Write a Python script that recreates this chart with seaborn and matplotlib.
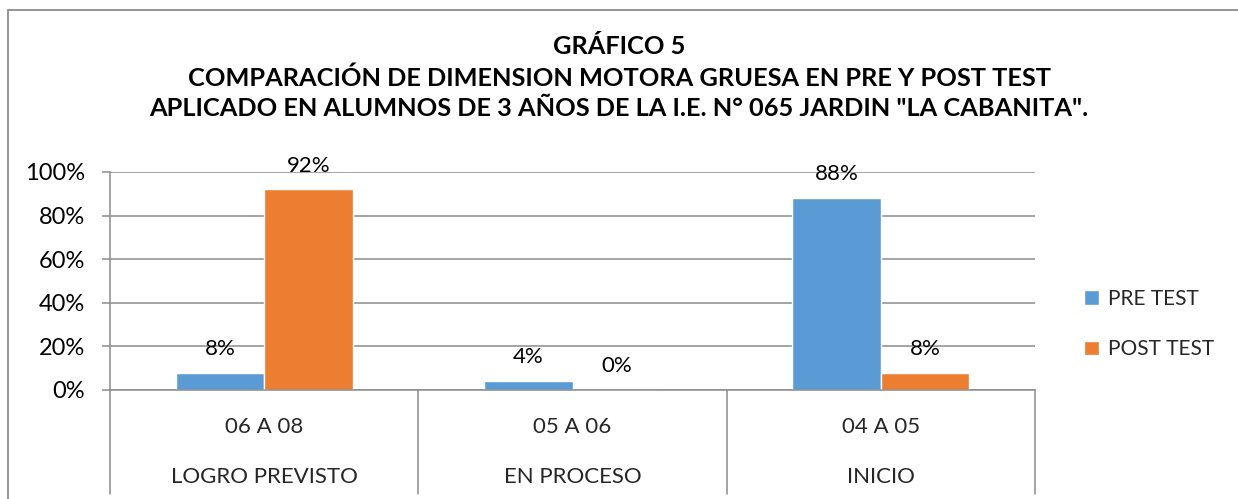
import matplotlib
matplotlib.use("Agg")
import matplotlib.pyplot as plt
import matplotlib.transforms as mtransforms
from matplotlib.lines import Line2D
import seaborn as sns
import pandas as pd

# ---- data ----
ranges = ["06 A 08", "05 A 06", "04 A 05"]
levels = ["LOGRO PREVISTO", "EN PROCESO", "INICIO"]
series = ["PRE TEST", "POST TEST"]
pre_test = [8, 4, 88]
post_test = [92, 0, 8]
title_lines = [
    "GRÁFICO 5",
    "COMPARACIÓN DE DIMENSION MOTORA GRUESA EN PRE Y POST TEST",
    "APLICADO EN ALUMNOS DE 3 AÑOS DE LA I.E. N° 065 JARDIN \"LA CABANITA\".",
]
colors = ["#5B9BD5", "#ED7D31"]

df = pd.DataFrame({
    "rango": ranges * 2,
    "serie": [series[0]] * 3 + [series[1]] * 3,
    "valor": pre_test + post_test,
})

sns.set_theme(style="white")
plt.rcParams["font.family"] = ["Lato", "DejaVu Sans"]

W, H = 1238, 499
fig = plt.figure(figsize=(W / 100, H / 100), dpi=100)
ax = fig.add_axes([110 / W, 1 - 390 / H, (1035 - 110) / W, (390 - 172) / H])

sns.barplot(data=df, x="rango", y="valor", hue="serie", order=ranges,
            hue_order=series, palette=colors, width=0.575, saturation=1,
            ax=ax, legend=True)

ax.set_xlim(-0.5, 2.5)
ax.set_ylim(0, 100)
ax.set_yticks(range(0, 101, 20))
ax.set_yticklabels([f"{v}%" for v in range(0, 101, 20)], fontsize=17, color="#000000")
ax.set_xticks([])
ax.set_xlabel("")
ax.set_ylabel("")
ax.yaxis.grid(True, color="#8C8C8C", linewidth=1.1)
ax.set_axisbelow(True)
for s in ["top", "right"]:
    ax.spines[s].set_visible(False)
for s in ["left", "bottom"]:
    ax.spines[s].set_color("#8C8C8C")
    ax.spines[s].set_linewidth(1.1)
ax.tick_params(axis="y", left=True, length=6, width=1.1, color="#8C8C8C", pad=12)

# data labels
for cont in ax.containers:
    for bar in cont:
        h = bar.get_height()
        ax.annotate(f"{h:.0f}%", (bar.get_x() + bar.get_width() / 2, h),
                    xytext=(0, 10), textcoords="offset points",
                    ha="center", va="bottom", fontsize=16, color="#000000")

# category separators and two-level labels
sep_bottom = -(494 - 390) / (390 - 172)
trans = mtransforms.blended_transform_factory(ax.transData, ax.transAxes)
for xs in [-0.5, 0.5, 1.5, 2.5]:
    ax.add_line(Line2D([xs, xs], [0, sep_bottom], transform=trans,
                       color="#8C8C8C", linewidth=1.1, clip_on=False))
lvl1_y = -(427 - 390) / (390 - 172)
lvl2_y = -(477 - 390) / (390 - 172)
for i, (r, l) in enumerate(zip(ranges, levels)):
    ax.text(i, lvl1_y, r, transform=trans, ha="center", va="center", fontsize=16)
    ax.text(i, lvl2_y, l, transform=trans, ha="center", va="center", fontsize=16)

# legend
leg = ax.legend(loc="center left", bbox_to_anchor=(1080 / W, 1 - 324 / H),
                bbox_transform=fig.transFigure, frameon=False, fontsize=15,
                handlelength=0.7, handleheight=0.7, handletextpad=0.45,
                labelspacing=1.45, borderaxespad=0, borderpad=0.2)

# title
for i, line in enumerate(title_lines):
    fig.text(619 / W, 1 - (47 + 31 * i) / H, line, ha="center", va="center",
             fontsize=18.3, fontweight="bold", color="#000000")

# chart frame (top and left visible)
fig.add_artist(Line2D([8 / W, 1], [1 - 10 / H, 1 - 10 / H], transform=fig.transFigure,
                      color="#8C8C8C", linewidth=1.3))
fig.add_artist(Line2D([8 / W, 8 / W], [0, 1 - 10 / H], transform=fig.transFigure,
                      color="#8C8C8C", linewidth=1.3))

fig.savefig("out.png", dpi=100, facecolor="white")
